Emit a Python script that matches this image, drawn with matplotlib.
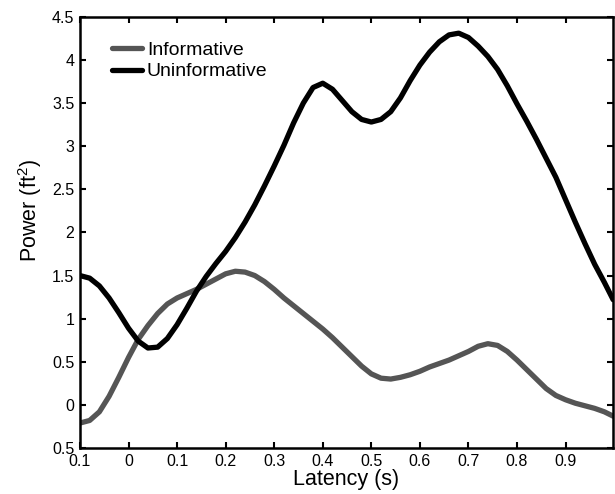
import matplotlib
matplotlib.use('Agg')
import matplotlib.pyplot as plt

plt.rcParams['font.family'] = ['Liberation Sans', 'DejaVu Sans']
plt.rcParams['mathtext.default'] = 'regular'

# latency (s) and power (ft^2)
lat_x = [-0.1, -0.08, -0.06, -0.04, -0.02, 0.0, 0.02, 0.04, 0.06, 0.08, 0.10, 0.12, 0.14,
         0.16, 0.18, 0.20, 0.22, 0.24, 0.26, 0.28, 0.30, 0.32, 0.34, 0.36, 0.38, 0.40,
         0.42, 0.44, 0.46, 0.48, 0.50, 0.52, 0.54, 0.56, 0.58, 0.60, 0.62, 0.64, 0.66,
         0.68, 0.70, 0.72, 0.74, 0.76, 0.78, 0.80, 0.82, 0.84, 0.86, 0.88, 0.90, 0.92,
         0.94, 0.96, 0.98, 0.998]

uninformative = [1.50, 1.47, 1.38, 1.24, 1.07, 0.89, 0.74, 0.66, 0.67, 0.77, 0.93, 1.12, 1.32,
                 1.49, 1.64, 1.78, 1.94, 2.12, 2.32, 2.54, 2.77, 3.01, 3.27, 3.50, 3.68, 3.73,
                 3.66, 3.53, 3.40, 3.31, 3.28, 3.31, 3.40, 3.56, 3.76, 3.94, 4.09, 4.21, 4.29,
                 4.31, 4.26, 4.16, 4.04, 3.89, 3.70, 3.49, 3.29, 3.08, 2.86, 2.64, 2.38, 2.12,
                 1.87, 1.63, 1.42, 1.22]

informative = [-0.21, -0.18, -0.08, 0.10, 0.32, 0.55, 0.76, 0.92, 1.06, 1.17, 1.24, 1.29, 1.34,
               1.40, 1.46, 1.52, 1.55, 1.54, 1.50, 1.43, 1.34, 1.24, 1.15, 1.06, 0.97, 0.88,
               0.78, 0.67, 0.56, 0.45, 0.36, 0.31, 0.30, 0.32, 0.35, 0.39, 0.44, 0.48, 0.52,
               0.57, 0.62, 0.68, 0.71, 0.69, 0.62, 0.52, 0.41, 0.30, 0.19, 0.11, 0.06, 0.02,
               -0.01, -0.04, -0.08, -0.13]

x_ticks = [-0.1, 0.0, 0.1, 0.2, 0.3, 0.4, 0.5, 0.6, 0.7, 0.8, 0.9]
x_labels = ['0.1', '0', '0.1', '0.2', '0.3', '0.4', '0.5', '0.6', '0.7', '0.8', '0.9']
y_ticks = [-0.5, 0, 0.5, 1, 1.5, 2, 2.5, 3, 3.5, 4, 4.5]
y_labels = ['0.5', '0', '0.5', '1', '1.5', '2', '2.5', '3', '3.5', '4', '4.5']

fig = plt.figure(figsize=(6.15, 4.94), dpi=100)
ax = fig.add_axes([0.130, 0.093, 0.867, 0.873])

ax.plot(lat_x, informative, color='#555555', linewidth=3.8, label='Informative',
        solid_capstyle='round', solid_joinstyle='round')
ax.plot(lat_x, uninformative, color='black', linewidth=3.8, label='Uninformative',
        solid_capstyle='round', solid_joinstyle='round')

ax.set_xlim(-0.1, 0.998)
ax.set_ylim(-0.5, 4.5)
ax.set_xticks(x_ticks)
ax.set_xticklabels(x_labels)
ax.set_yticks(y_ticks)
ax.set_yticklabels(y_labels)
ax.tick_params(direction='in', top=True, right=True, length=4, width=1.5, labelsize=11.5)
ax.tick_params(axis='x', pad=4)
ax.tick_params(axis='y', pad=4)
for s in ax.spines.values():
    s.set_linewidth(1.8)

ax.set_xlabel('Latency (s)', fontsize=15.5, labelpad=0)
ax.set_ylabel('Power (ft$^2$)', fontsize=15.5)
ax.yaxis.label.set_va('center')
ax.yaxis.set_label_coords(-0.094, 0.55)

ax.legend(loc='upper left', frameon=False, fontsize=14, handlelength=1.55, handletextpad=0.25,
          labelspacing=0.2, borderpad=0, borderaxespad=0, bbox_to_anchor=(0.06, 0.943))

fig.savefig('out.png', dpi=100)
